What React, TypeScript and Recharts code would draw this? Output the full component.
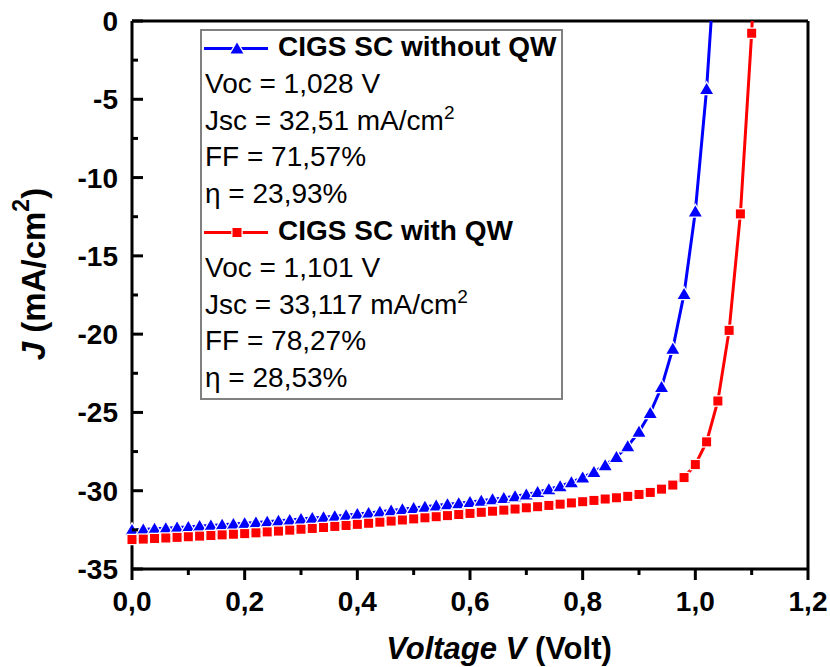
import React from 'react';
import { LineChart, Line, XAxis, YAxis, ReferenceLine } from 'recharts';

// J-V curves, simulated in 20 mV steps; last point is the open-circuit voltage
const voltageWithoutQW = [
  0, 0.02, 0.04, 0.06, 0.08, 0.1, 0.12, 0.14, 0.16, 0.18,
  0.2, 0.22, 0.24, 0.26, 0.28, 0.3, 0.32, 0.34, 0.36, 0.38,
  0.4, 0.42, 0.44, 0.46, 0.48, 0.5, 0.52, 0.54, 0.56, 0.58,
  0.6, 0.62, 0.64, 0.66, 0.68, 0.7, 0.72, 0.74, 0.76, 0.78,
  0.8, 0.82, 0.84, 0.86, 0.88, 0.9, 0.92, 0.94, 0.96, 0.98,
  1.0, 1.02, 1.028,
];
const currentWithoutQW = [
  -32.51, -32.47, -32.43, -32.39, -32.35, -32.31, -32.26, -32.22, -32.17, -32.13,
  -32.08, -32.03, -31.98, -31.92, -31.87, -31.81, -31.75, -31.69, -31.63, -31.56,
  -31.49, -31.42, -31.35, -31.27, -31.19, -31.11, -31.03, -30.95, -30.87, -30.8,
  -30.72, -30.64, -30.55, -30.46, -30.36, -30.24, -30.09, -29.91, -29.71, -29.46,
  -29.16, -28.8, -28.37, -27.84, -27.16, -26.24, -25.03, -23.38, -20.93, -17.43,
  -12.16, -4.34, 0,
];

const voltageWithQW = [
  0, 0.02, 0.04, 0.06, 0.08, 0.1, 0.12, 0.14, 0.16, 0.18,
  0.2, 0.22, 0.24, 0.26, 0.28, 0.3, 0.32, 0.34, 0.36, 0.38,
  0.4, 0.42, 0.44, 0.46, 0.48, 0.5, 0.52, 0.54, 0.56, 0.58,
  0.6, 0.62, 0.64, 0.66, 0.68, 0.7, 0.72, 0.74, 0.76, 0.78,
  0.8, 0.82, 0.84, 0.86, 0.88, 0.9, 0.92, 0.94, 0.96, 0.98,
  1.0, 1.02, 1.04, 1.06, 1.08, 1.1, 1.101,
];
const currentWithQW = [
  -33.117, -33.09, -33.05, -33.02, -32.98, -32.94, -32.9, -32.86, -32.82, -32.78,
  -32.74, -32.69, -32.63, -32.58, -32.52, -32.46, -32.41, -32.35, -32.28, -32.22,
  -32.15, -32.08, -32.01, -31.94, -31.87, -31.8, -31.73, -31.66, -31.59, -31.52,
  -31.45, -31.38, -31.31, -31.24, -31.17, -31.09, -31.02, -30.94, -30.86, -30.78,
  -30.7, -30.62, -30.53, -30.45, -30.36, -30.24, -30.11, -29.9, -29.64, -29.16,
  -28.33, -26.88, -24.27, -19.76, -12.32, -0.78, 0,
];

const xTicks = [0, 0.1, 0.2, 0.3, 0.4, 0.5, 0.6, 0.7, 0.8, 0.9, 1.0, 1.1, 1.2];
const yTicks = [0, -2.5, -5, -7.5, -10, -12.5, -15, -17.5, -20, -22.5, -25, -27.5, -30, -32.5, -35];

const withoutData = voltageWithoutQW.map((v, i) => ({ v, j: currentWithoutQW[i] }));
const withData = voltageWithQW.map((v, i) => ({ v, j: currentWithQW[i] }));

const FONT = '"Liberation Sans", Arial, sans-serif';
const BLUE = '#0000ff';
const RED = '#ff0000';

const triPoints = (cx: number, cy: number) =>
  `${cx},${cy - 6} ${cx - 6.4},${cy + 5} ${cx + 6.4},${cy + 5}`;

const TriangleDot = (props: any) => {
  const { cx, cy, payload, index } = props;
  if (payload.j === 0) return <g key={`t-${index}`} />;
  return (
    <polygon key={`t-${index}`} points={triPoints(cx, cy)} fill={BLUE}
      stroke="#fff" strokeWidth={2.5} paintOrder="stroke" />
  );
};

const SquareDot = (props: any) => {
  const { cx, cy, payload, index } = props;
  if (payload.j === 0) return <g key={`s-${index}`} />;
  return (
    <rect key={`s-${index}`} x={cx - 4.5} y={cy - 4.5} width={9} height={9} fill={RED}
      stroke="#fff" strokeWidth={2.5} paintOrder="stroke" />
  );
};

const XTick = (props: any) => {
  const { x, y, payload } = props;
  const v = payload.value;
  const major = Math.round(v * 10) % 2 === 0;
  return (
    <g>
      <line x1={x} x2={x} y1={y} y2={y + (major ? 11 : 6)} stroke="#000" strokeWidth={3} />
      {major && (
        <text x={x} y={y + 42} textAnchor="middle" fontFamily={FONT} fontWeight="bold"
          fontSize={28} fill="#000">
          {v.toFixed(1).replace('.', ',')}
        </text>
      )}
    </g>
  );
};

const YTick = (props: any) => {
  const { x, y, payload } = props;
  const v = payload.value;
  const major = v % 5 === 0;
  return (
    <g>
      <line x1={x} x2={x + (major ? 11 : 6)} y1={y} y2={y} stroke="#000" strokeWidth={3} />
      {major && (
        <text x={x - 14} y={y + 10} textAnchor="end" fontFamily={FONT} fontWeight="bold"
          fontSize={28} fill="#000">
          {String(v)}
        </text>
      )}
    </g>
  );
};

const XTitle = (props: any) => {
  const vb = props.viewBox || { x: 132, y: 569, width: 676 };
  return (
    <text x={vb.x + vb.width / 2 + 29} y={vb.y + 90} textAnchor="middle" fontFamily={FONT}
      fontWeight="bold" fontSize={31} fill="#000">
      <tspan fontStyle="italic">Voltage V</tspan>
      <tspan> (Volt)</tspan>
    </text>
  );
};

const YTitle = () => {
  const cx = 33;
  const cy = 274;
  return (
    <text x={cx} y={cy} transform={`rotate(-90, ${cx}, ${cy})`} textAnchor="middle"
      dominantBaseline="central" fontFamily={FONT} fontWeight="bold" fontSize={33} fill="#000">
      <tspan fontStyle="italic">J</tspan>
      <tspan> (mA/cm</tspan>
      <tspan dy={-12} fontSize={23}>2</tspan>
      <tspan dy={12}>)</tspan>
    </text>
  );
};

const Sup = ({ children }: { children: React.ReactNode }) => (
  <span style={{ fontSize: 19, verticalAlign: 11, lineHeight: 0 }}>{children}</span>
);

const LegendRow = ({ color, kind, label }: { color: string; kind: 'tri' | 'sq'; label: string }) => (
  <div style={{ display: 'flex', alignItems: 'flex-start', height: 36.8 }}>
    <svg width={76} height={36.8} style={{ flex: 'none' }}>
      <line x1={2} x2={66} y1={19.5} y2={19.5} stroke={color} strokeWidth={3} />
      {kind === 'tri' ? (
        <polygon points={triPoints(35, 19.5)} fill={color} stroke="#fff" strokeWidth={2.5}
          paintOrder="stroke" />
      ) : (
        <rect x={30.5} y={15} width={9} height={9} fill={color} stroke="#fff" strokeWidth={2.5}
          paintOrder="stroke" />
      )}
    </svg>
    <span style={{ fontWeight: 'bold' }}>{label}</span>
  </div>
);

const TextRow = ({ children }: { children: React.ReactNode }) => (
  <div style={{ height: 36.8, paddingLeft: 3, whiteSpace: 'nowrap' }}>{children}</div>
);

export default function App() {
  return (
    <div style={{ position: 'absolute', left: 0, top: 0, width: 830, height: 667, background: '#fff' }}>
      <LineChart width={830} height={667} margin={{ top: 21, right: 22, bottom: 0, left: 0 }}>
        <XAxis
          type="number"
          dataKey="v"
          domain={[0, 1.2]}
          ticks={xTicks}
          interval={0}
          tick={<XTick />}
          tickLine={false}
          tickSize={0}
          tickMargin={0}
          axisLine={{ stroke: '#000', strokeWidth: 3 }}
          height={98}
          label={<XTitle />}
        />
        <YAxis
          type="number"
          dataKey="j"
          domain={[-35, 0]}
          ticks={yTicks}
          interval={0}
          tick={<YTick />}
          tickLine={false}
          tickSize={0}
          tickMargin={0}
          axisLine={{ stroke: '#000', strokeWidth: 3 }}
          width={132}
          label={<YTitle />}
        />
        <ReferenceLine y={0} stroke="#000" strokeWidth={3} />
        <ReferenceLine x={1.2} stroke="#000" strokeWidth={3} />
        <Line
          data={withoutData}
          dataKey="j"
          type="linear"
          stroke={BLUE}
          strokeWidth={3}
          dot={(p: any) => <TriangleDot key={`t-${p.index}`} {...p} />}
          activeDot={false}
          isAnimationActive={false}
        />
        <Line
          data={withData}
          dataKey="j"
          type="linear"
          stroke={RED}
          strokeWidth={3}
          dot={(p: any) => <SquareDot key={`s-${p.index}`} {...p} />}
          activeDot={false}
          isAnimationActive={false}
        />
      </LineChart>

      <div
        style={{
          position: 'absolute',
          left: 200,
          top: 29,
          width: 363,
          height: 371,
          boxSizing: 'border-box',
          border: '2px solid #808080',
          background: '#fff',
          fontFamily: FONT,
          fontSize: 28,
          lineHeight: '36.8px',
          color: '#000',
        }}
      >
        <div style={{ marginTop: -2 }}>
          <LegendRow color={BLUE} kind="tri" label="CIGS SC without QW" />
          <TextRow>Voc = 1,028 V</TextRow>
          <TextRow>Jsc = 32,51 mA/cm<Sup>2</Sup></TextRow>
          <TextRow>FF = 71,57%</TextRow>
          <TextRow>η = 23,93%</TextRow>
          <LegendRow color={RED} kind="sq" label="CIGS SC with QW" />
          <TextRow>Voc = 1,101 V</TextRow>
          <TextRow>Jsc = 33,117 mA/cm<Sup>2</Sup></TextRow>
          <TextRow>FF = 78,27%</TextRow>
          <TextRow>η = 28,53%</TextRow>
        </div>
      </div>
    </div>
  );
}
